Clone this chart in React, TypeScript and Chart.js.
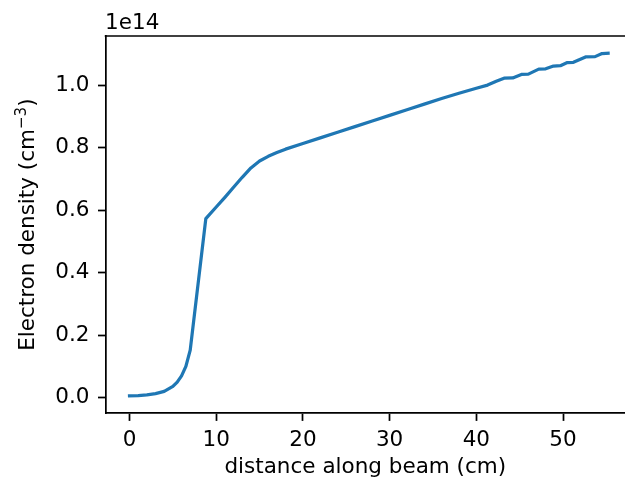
import React, { useEffect, useRef } from "react";
import { Chart, registerables } from "chart.js";

Chart.register(...registerables);

// distance along beam (cm)
const distanceCm = [0, 1, 2, 3, 4, 5, 5.5, 6, 6.5, 7, 8.8, 10, 11, 12, 13, 14, 15, 16, 17, 18, 20, 22, 24, 26, 28, 30, 32, 34, 36, 38, 40, 41.3, 42.3, 43.2, 44.2, 45.2, 46.0, 47.2, 48.0, 48.9, 49.7, 50.5, 51.2, 52.6, 53.7, 54.5, 55.2];
// electron density in units of 1e14 cm^-3
const densityE14 = [0.006, 0.007, 0.009, 0.013, 0.02, 0.036, 0.05, 0.07, 0.1, 0.152, 0.573, 0.61, 0.641, 0.673, 0.705, 0.735, 0.757, 0.772, 0.784, 0.795, 0.813, 0.831, 0.849, 0.867, 0.885, 0.903, 0.921, 0.939, 0.957, 0.974, 0.99, 1.0, 1.012, 1.022, 1.023, 1.034, 1.035, 1.051, 1.052, 1.061, 1.062, 1.072, 1.073, 1.09, 1.091, 1.101, 1.102];

const xTicks = [0, 10, 20, 30, 40, 50];
const yTicks = [0.0, 0.2, 0.4, 0.6, 0.8, 1.0];
const xTitle = "distance along beam (cm)";
const yTitleMain = "Electron density (cm";
const yTitleSup = "\u22123";
const yTitleEnd = ")";
const offsetText = "1e14";

const FONT = "DejaVu Sans";
const FS = 21.5;
const TICK_LEN = 7.6;
const SPINE_W = 1.73;

export default function App() {
  const ref = useRef<HTMLCanvasElement>(null);

  useEffect(() => {
    const canvas = ref.current!;
    const deco = {
      id: "deco",
      afterDraw(chart: any) {
        const { ctx, chartArea } = chart;
        ctx.save();
        ctx.strokeStyle = "#000";
        ctx.lineWidth = SPINE_W;
        ctx.beginPath();
        ctx.moveTo(chartArea.left - SPINE_W / 2, chartArea.top);
        ctx.lineTo(chartArea.right + 2, chartArea.top);
        ctx.stroke();
        // offset text
        ctx.fillStyle = "#000";
        ctx.font = `${FS}px "${FONT}"`;
        ctx.textAlign = "left";
        ctx.textBaseline = "alphabetic";
        ctx.fillText(offsetText, chartArea.left - 0.5, chartArea.top - 7.5);
        // y title with superscript
        const cy = (chartArea.top + chartArea.bottom) / 2;
        ctx.translate(33.5, cy);
        ctx.rotate(-Math.PI / 2);
        ctx.font = `${FS}px "${FONT}"`;
        const w1 = ctx.measureText(yTitleMain).width;
        const w3 = ctx.measureText(yTitleEnd).width;
        ctx.font = `${FS * 0.7}px "${FONT}"`;
        const w2 = ctx.measureText(yTitleSup).width;
        const total = w1 + w2 + w3;
        let x = -total / 2;
        ctx.font = `${FS}px "${FONT}"`;
        ctx.fillText(yTitleMain, x, 0);
        x += w1;
        ctx.font = `${FS * 0.7}px "${FONT}"`;
        ctx.fillText(yTitleSup, x, -FS * 0.36);
        x += w2;
        ctx.font = `${FS}px "${FONT}"`;
        ctx.fillText(yTitleEnd, x, 0);
        ctx.restore();
      },
    };

    const chart = new Chart(canvas, {
      type: "line",
      data: {
        datasets: [
          {
            data: distanceCm.map((d, i) => ({ x: d, y: densityE14[i] })),
            borderColor: "#1f77b4",
            borderWidth: 3.25,
            pointRadius: 0,
            tension: 0,
            fill: false,
            borderJoinStyle: "round",
            borderCapStyle: "square",
          },
        ],
      },
      options: {
        responsive: false,
        animation: false,
        devicePixelRatio: 1,
        layout: { padding: { left: 0, top: 36, right: 0, bottom: 0 } },
        plugins: { legend: { display: false }, tooltip: { enabled: false } },
        scales: {
          x: {
            type: "linear",
            min: -2.76,
            max: 57.15,
            afterBuildTicks: (s: any) => {
              s.ticks = xTicks.map((v) => ({ value: v }));
            },
            afterFit: (s: any) => {
              s.height = 67.7;
            },
            grid: {
              drawOnChartArea: false,
              drawTicks: true,
              tickLength: TICK_LEN,
              tickWidth: SPINE_W,
              tickColor: "#000",
            },
            border: { display: true, color: "#000", width: SPINE_W },
            ticks: {
              color: "#000",
              font: { family: FONT, size: FS },
              padding: 6.2,
              maxRotation: 0,
              autoSkip: false,
              callback: (v: any) => String(v),
            },
            title: {
              display: true,
              text: xTitle,
              color: "#000",
              font: { family: FONT, size: FS },
              padding: { top: 0, bottom: 0.5 },
            },
          },
          y: {
            type: "linear",
            min: -0.0499,
            max: 1.157,
            afterBuildTicks: (s: any) => {
              s.ticks = yTicks.map((v) => ({ value: v }));
            },
            afterFit: (s: any) => {
              s.width = 105.6;
            },
            grid: {
              drawOnChartArea: false,
              drawTicks: true,
              tickLength: TICK_LEN,
              tickWidth: SPINE_W,
              tickColor: "#000",
            },
            border: { display: true, color: "#000", width: SPINE_W },
            ticks: {
              color: "#000",
              font: { family: FONT, size: FS },
              padding: 8.5,
              autoSkip: false,
              callback: (v: any) => Number(v).toFixed(1),
            },
          },
        },
      },
      plugins: [deco],
    });
    return () => chart.destroy();
  }, []);

  return (
    <div
      style={{
        position: "fixed",
        left: 0,
        top: 0,
        width: 625,
        height: 481,
        overflow: "hidden",
        background: "#fff",
      }}
    >
      <canvas ref={ref} width={625} height={481} style={{ display: "block", width: 625, height: 481 }} />
    </div>
  );
}
